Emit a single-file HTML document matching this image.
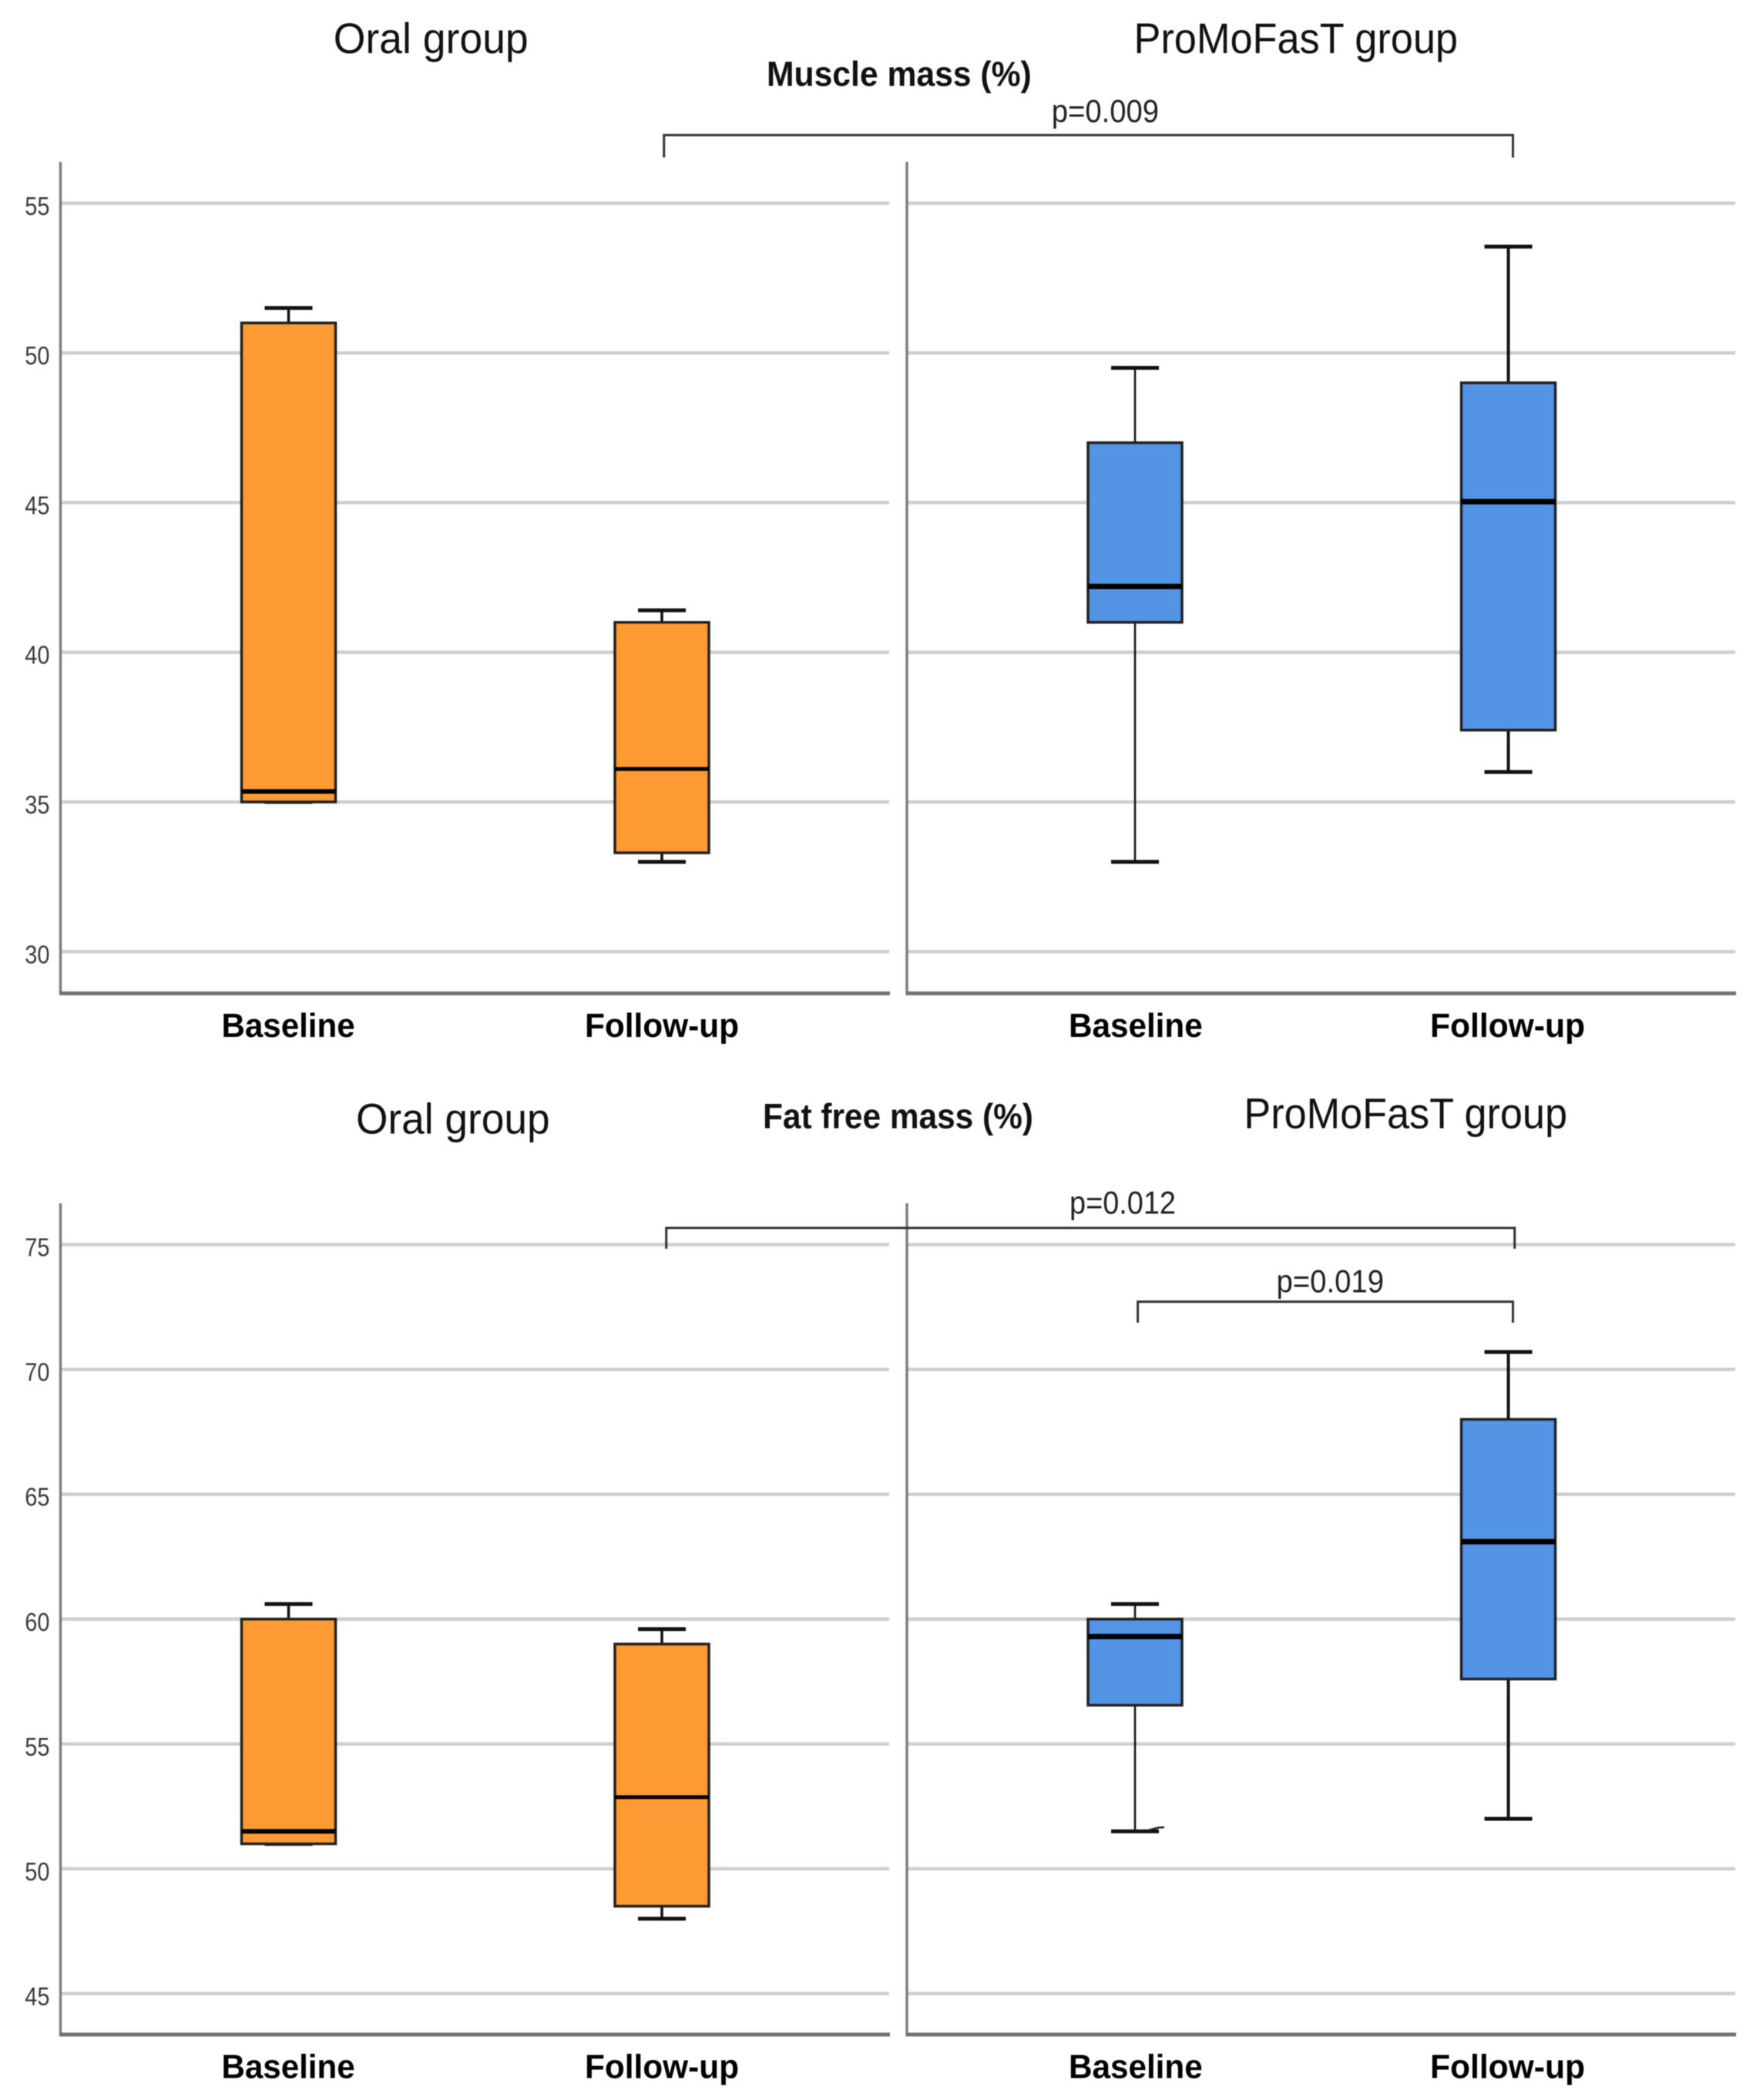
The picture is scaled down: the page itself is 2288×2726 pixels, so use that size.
<!DOCTYPE html>
<html lang="en">
<head>
<meta charset="utf-8">
<title>Muscle mass and fat free mass box plots</title>
<style>
  html, body { margin: 0; padding: 0; background: #ffffff; }
  #figure { display: block; width: 2288px; height: 2726px; background: #ffffff; filter: blur(0.6px); }
  text { font-family: "Liberation Sans", Arial, sans-serif; }
</style>
</head>
<body>
<svg id="figure" xmlns="http://www.w3.org/2000/svg" width="2288" height="2726" viewBox="0 0 2288 2726"></svg>
<script>
// ---------- chart data ----------
const timepoints = ['Baseline', 'Follow-up'];
const groupNames = ['Oral group', 'ProMoFasT group'];

const muscleTicks = [30, 35, 40, 45, 50, 55];
const muscleLow    = [35.0, 33.0, 33.0, 36.0];
const muscleQ1     = [35.0, 33.3, 41.0, 37.4];
const muscleMedian = [35.35, 36.1, 42.2, 45.03];
const muscleQ3     = [51.0, 41.0, 47.0, 49.0];
const muscleHigh   = [51.5, 41.4, 49.5, 53.55];

const fatFreeTicks = [45, 50, 55, 60, 65, 70, 75];
const fatFreeLow    = [51.0, 48.0, 51.5, 52.0];
const fatFreeQ1     = [51.0, 48.5, 56.55, 57.6];
const fatFreeMedian = [51.5, 52.87, 59.3, 63.1];
const fatFreeQ3     = [60.0, 59.0, 60.0, 68.0];
const fatFreeHigh   = [60.6, 59.6, 60.6, 70.7];

// ---------- helpers ----------
const NS = 'http://www.w3.org/2000/svg';
const svg = document.getElementById('figure');
const PANEL_LEFT = [78.5, 1177];
const PANEL_RIGHT = [1154, 2252];
const FILLS = ['#fd9a33', '#5494e4'];
const BOX_HALF = 61;
const CAP_HALF = 31;

function add(parent, tag, name, attrs) {
  const el = document.createElementNS(NS, tag);
  
  
  Object.keys(attrs).forEach(function (k) { el.setAttribute(k, attrs[k]); });
  parent.appendChild(el);
  return el;
}
function line(parent, name, x1, y1, x2, y2, color, width) {
  return add(parent, 'line', name, { x1: x1, y1: y1, x2: x2, y2: y2, stroke: color, 'stroke-width': width });
}
function label(parent, name, str, x1, x2, baseline, size, weight, color) {
  const t = add(parent, 'text', name, {
    x: x1, y: baseline, 'font-size': size, 'font-weight': weight, fill: color,
    textLength: x2 - x1, lengthAdjust: 'spacingAndGlyphs'
  });
  t.textContent = str;
  return t;
}
function bracket(parent, name, text, x1, x2, yTop, yBottom, tx1, tx2, tBase) {
  const g = add(parent, 'g', name, {});
  add(g, 'path', name + '-line', {
    d: 'M' + x1 + ' ' + yBottom + 'V' + yTop + 'H' + x2 + 'V' + yBottom,
    fill: 'none', stroke: '#333333', 'stroke-width': 3
  });
  label(g, name + '-label', text, tx1, tx2, tBase, 42, 400, '#222222');
}

function drawChart(cfg) {
  const g = add(svg, 'g', cfg.name, {});
  const yScale = function (v) {
    return cfg.yRef + (cfg.vRef - v) * cfg.pxPerUnit;
  };
  const xCenter = function (panel, i) {
    return PANEL_LEFT[panel] + 296 + i * 484.5;
  };

  // gridlines
  cfg.ticks.forEach(function (tick) {
    const y = yScale(tick);
    PANEL_LEFT.forEach(function (left, p) {
      line(g, 'gridline-' + tick + '-panel-' + (p + 1), left, y, PANEL_RIGHT[p], y, '#cfcfcf', 4.5);
    });
    label(g, 'y-tick-label-' + tick, String(tick), 32.3, 64.5, y + 15, 33, 400, '#3a3a3a');
  });

  // axes
  PANEL_LEFT.forEach(function (left, p) {
    line(g, 'y-axis-panel-' + (p + 1), left, cfg.axisTop, left, cfg.axisBottom, '#808080', 3.5);
    line(g, 'x-axis-panel-' + (p + 1), left - 1.5, cfg.axisBottom, PANEL_RIGHT[p] + 1, cfg.axisBottom, '#737373', 5);
  });

  // boxes
  [0, 1].forEach(function (panel) {
    [0, 1].forEach(function (i) {
      const k = panel * 2 + i;
      const cx = xCenter(panel, i);
      const id = (panel === 0 ? 'oral-' : 'promofast-') + (i === 0 ? 'baseline' : 'follow-up');
      const box = add(g, 'g', 'box-' + id, {});
      const sw = cfg.whisker[k];
      line(box, 'whisker-upper-' + id, cx, yScale(cfg.high[k]), cx, yScale(cfg.q3[k]), '#111111', sw);
      line(box, 'whisker-lower-' + id, cx, yScale(cfg.q1[k]), cx, yScale(cfg.low[k]), '#111111', sw);
      line(box, 'cap-upper-' + id, cx - CAP_HALF, yScale(cfg.high[k]), cx + CAP_HALF, yScale(cfg.high[k]), '#111111', cfg.capWidth);
      line(box, 'cap-lower-' + id, cx - CAP_HALF, yScale(cfg.low[k]), cx + CAP_HALF, yScale(cfg.low[k]), '#111111', cfg.capWidth);
      add(box, 'rect', 'iqr-box-' + id, {
        x: cx - BOX_HALF, y: yScale(cfg.q3[k]), width: BOX_HALF * 2,
        height: yScale(cfg.q1[k]) - yScale(cfg.q3[k]),
        fill: FILLS[panel], stroke: '#222222', 'stroke-width': 3.5
      });
      line(box, 'median-' + id, cx - BOX_HALF, yScale(cfg.median[k]), cx + BOX_HALF, yScale(cfg.median[k]), '#000000', cfg.medianWidth[k]);
    });
  });

  // category labels
  label(g, 'x-label-oral-baseline', timepoints[0], 287.5, 460.6, cfg.xLabelBase, 44, 700, '#000000');
  label(g, 'x-label-oral-follow-up', timepoints[1], 759, 959, cfg.xLabelBase, 44, 700, '#000000');
  label(g, 'x-label-promofast-baseline', timepoints[0], 1387, 1560.7, cfg.xLabelBase, 44, 700, '#000000');
  label(g, 'x-label-promofast-follow-up', timepoints[1], 1856, 2057, cfg.xLabelBase, 44, 700, '#000000');
  return g;
}

// ---------- muscle mass chart ----------
const topChart = drawChart({
  name: 'muscle-mass-chart', ticks: muscleTicks,
  low: muscleLow, q1: muscleQ1, median: muscleMedian, q3: muscleQ3, high: muscleHigh,
  vRef: 55, yRef: 263.8, pxPerUnit: 38.86,
  axisTop: 210, axisBottom: 1289.5, xLabelBase: 1346,
  whisker: [3.5, 3.5, 2.5, 4], capWidth: 5, medianWidth: [6, 5, 7, 7]
});
label(topChart, 'title-oral-group', groupNames[0], 432.7, 685.7, 69, 56, 400, '#111111');
label(topChart, 'title-promofast-group', groupNames[1], 1471.5, 1892, 69, 56, 400, '#111111');
label(topChart, 'chart-title-muscle-mass', 'Muscle mass (%)', 995, 1338.7, 111.6, 45, 700, '#111111');
bracket(topChart, 'significance-bracket-p-0-009', 'p=0.009', 861.7, 1963.5, 175.4, 204.5, 1364.8, 1504, 158.5);

// ---------- fat free mass chart ----------
const bottomChart = drawChart({
  name: 'fat-free-mass-chart', ticks: fatFreeTicks,
  low: fatFreeLow, q1: fatFreeQ1, median: fatFreeMedian, q3: fatFreeQ3, high: fatFreeHigh,
  vRef: 75, yRef: 1615.6, pxPerUnit: 32.41,
  axisTop: 1562, axisBottom: 2641, xLabelBase: 2697.6,
  whisker: [3.5, 3.5, 2.5, 4], capWidth: 5, medianWidth: [6, 5, 7, 7]
});
label(bottomChart, 'title-oral-group', groupNames[0], 462, 713.6, 1471.4, 56, 400, '#111111');
label(bottomChart, 'title-promofast-group', groupNames[1], 1614.4, 2034, 1464.7, 56, 400, '#111111');
label(bottomChart, 'chart-title-fat-free-mass', 'Fat free mass (%)', 990, 1340.9, 1464.7, 45, 700, '#111111');
bracket(bottomChart, 'significance-bracket-p-0-012', 'p=0.012', 864.7, 1965.7, 1594, 1621, 1388, 1526, 1575.4);
bracket(bottomChart, 'significance-bracket-p-0-019', 'p=0.019', 1476.6, 1963.5, 1689.7, 1717, 1656.5, 1796, 1677.7);
add(bottomChart, 'path', 'whisker-cap-artifact', {
  d: 'M1490 2376L1503 2372.5L1511 2372',
  fill: 'none', stroke: '#222222', 'stroke-width': 2.5
});
</script>
</body>
</html>
